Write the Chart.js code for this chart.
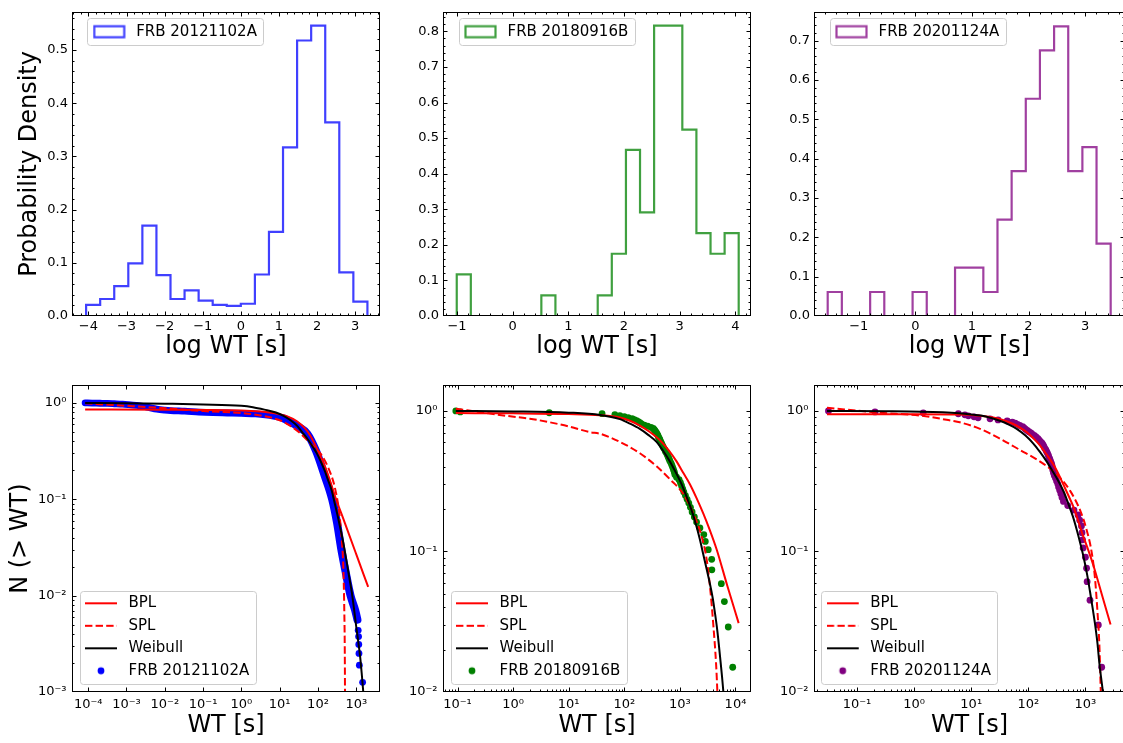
<!DOCTYPE html>
<html>
<head>
<meta charset="utf-8">
<script src="https://cdn.jsdelivr.net/npm/chart.js@4.4.1/dist/chart.umd.min.js"></script>
<style>
  html, body { margin: 0; padding: 0; background: #fff; }
  body { width: 1123px; height: 743px; overflow: hidden; position: relative; }
  canvas { position: absolute; }
</style>
</head>
<body>
<script>
// ---------------- data ----------------
const frbNames = ['FRB 20121102A', 'FRB 20180916B', 'FRB 20201124A'];
const modelNames = ['BPL', 'SPL', 'Weibull'];

// top row: histograms of log WT (bin edges + probability density)
const histEdges1 = [-4.06, -3.691, -3.322, -2.953, -2.584, -2.215, -1.846, -1.477, -1.108, -0.739, -0.37, -0.001, 0.368, 0.737, 1.106, 1.475, 1.844, 2.213, 2.582, 2.951, 3.32];
const histDens1 = [0.021, 0.032, 0.056, 0.099, 0.170, 0.077, 0.032, 0.048, 0.029, 0.021, 0.019, 0.023, 0.078, 0.158, 0.317, 0.518, 0.546, 0.364, 0.082, 0.027];
const histEdges2 = [-1.005, -0.752, -0.498, -0.245, 0.008, 0.262, 0.515, 0.768, 1.021, 1.275, 1.528, 1.781, 2.035, 2.288, 2.541, 2.795, 3.048, 3.301, 3.555, 3.808, 4.061];
const histDens2 = [0.117, 0, 0, 0, 0, 0, 0.058, 0, 0, 0, 0.058, 0.175, 0.467, 0.291, 0.816, 0.816, 0.524, 0.233, 0.175, 0.233];
const histEdges3 = [-1.548, -1.298, -1.048, -0.798, -0.548, -0.298, -0.048, 0.202, 0.452, 0.702, 0.952, 1.202, 1.452, 1.702, 1.952, 2.202, 2.452, 2.702, 2.952, 3.202, 3.452];
const histDens3 = [0.061, 0, 0, 0.061, 0, 0, 0.061, 0, 0, 0.123, 0.123, 0.061, 0.245, 0.368, 0.552, 0.675, 0.736, 0.368, 0.429, 0.184];

const histXTicks1 = [-4, -3, -2, -1, 0, 1, 2, 3];
const histXTicks2 = [-1, 0, 1, 2, 3, 4];
const histXTicks3 = [-1, 0, 1, 2, 3];
const histYTicks1 = [0, 0.1, 0.2, 0.3, 0.4, 0.5];
const histYTicks2 = [0, 0.1, 0.2, 0.3, 0.4, 0.5, 0.6, 0.7, 0.8];
const histYTicks3 = [0, 0.1, 0.2, 0.3, 0.4, 0.5, 0.6, 0.7];

// bottom row: N(>WT), stored as log10(WT [s]) and log10(N) for the fits
const bpl1LogWt = [-4.08, -2.0, 0.0, 0.5, 0.9, 1.2, 1.45, 1.65, 1.8, 1.92, 2.05, 2.18, 2.3, 2.42, 2.7, 3.0, 3.31];
const bpl1LogN = [-0.068, -0.07, -0.078, -0.09, -0.11, -0.14, -0.19, -0.26, -0.34, -0.43, -0.54, -0.66, -0.79, -0.94, -1.245, -1.572, -1.91];
const spl1LogWt = [-4.08, -3.0, -2.0, -1.0, 0.0, 0.5, 1.0, 1.27, 1.55, 1.8, 2.06, 2.27, 2.44, 2.557, 2.62, 2.66, 2.687, 2.7, 2.705, 2.708];
const spl1LogN = [-0.005, -0.03, -0.055, -0.085, -0.105, -0.13, -0.18, -0.235, -0.32, -0.42, -0.524, -0.675, -0.878, -1.148, -1.418, -1.69, -2.16, -2.6, -3.0, -3.3];
const weib1LogWt = [-4.08, -3.0, -2.0, -1.0, 0.0, 0.3, 0.6, 0.9, 1.1, 1.3, 1.45, 1.6, 1.75, 1.87, 1.97, 2.08, 2.18, 2.27, 2.36, 2.43, 2.5, 2.575, 2.645, 2.705, 2.765, 2.82, 2.88, 2.935, 2.99, 3.045, 3.1, 3.14, 3.18, 3.21];
const weib1LogN = [0, -0.004, -0.009, -0.016, -0.03, -0.045, -0.07, -0.1, -0.135, -0.185, -0.236, -0.31, -0.388, -0.46, -0.524, -0.615, -0.709, -0.81, -0.912, -1.03, -1.148, -1.285, -1.418, -1.55, -1.689, -1.82, -1.959, -2.12, -2.297, -2.46, -2.634, -2.8, -2.99, -3.15];
// FRB 20121102A: dense band of bursts (flat part, steep part) and the last isolated points
const bandFlat1LogWt = [-4.08, -3.9, -3.69, -3.5, -3.32, -3.1, -2.95, -2.75, -2.58, -2.4, -2.21, -2.0, -1.85, -1.48, -1.11, -0.74, -0.37, 0.0, 0.37, 0.74, 1.1];
const bandFlat1LogN = [0, -0.002, -0.004, -0.006, -0.009, -0.013, -0.018, -0.026, -0.035, -0.05, -0.065, -0.075, -0.08, -0.086, -0.095, -0.101, -0.105, -0.109, -0.114, -0.13, -0.16];
const bandSteep1LogWt = [1.1, 1.3, 1.5, 1.72, 1.95, 2.17, 2.37, 2.5, 2.6, 2.72, 2.85, 2.97, 3.03];
const bandSteep1LogN = [-0.16, -0.2, -0.25, -0.32, -0.5, -0.75, -1.0, -1.25, -1.5, -1.75, -2.0, -2.15, -2.25];
const tail1LogWt = [3.05, 3.06, 3.065, 3.07, 3.08, 3.165];
const tail1LogN = [-2.36, -2.425, -2.506, -2.6, -2.722, -2.9];

const bpl2LogWt = [-1.03, 0.0, 1.0, 1.56, 1.92, 2.1, 2.28, 2.46, 2.64, 2.8, 2.94, 3.06, 3.18, 3.3, 3.42, 3.54, 3.66, 3.85, 4.057];
const bpl2LogN = [-0.015, -0.017, -0.022, -0.03, -0.047, -0.07, -0.104, -0.15, -0.208, -0.28, -0.359, -0.44, -0.521, -0.62, -0.729, -0.85, -0.984, -1.24, -1.51];
const spl2LogWt = [-1.03, -0.6, -0.115, 0.3, 0.664, 1.0, 1.383, 1.563, 1.92, 2.28, 2.58, 2.82, 3.06, 3.24, 3.39, 3.48, 3.55, 3.6, 3.65, 3.673, 3.69];
const spl2LogN = [0.016, -0.008, -0.035, -0.055, -0.081, -0.11, -0.151, -0.162, -0.22, -0.301, -0.394, -0.486, -0.59, -0.729, -0.891, -1.053, -1.285, -1.517, -1.794, -1.99, -2.2];
const weib2LogWt = [-1.03, 0.0, 1.0, 1.563, 1.92, 2.1, 2.28, 2.43, 2.58, 2.7, 2.82, 2.93, 3.03, 3.12, 3.21, 3.29, 3.36, 3.42, 3.48, 3.54, 3.59, 3.635, 3.673, 3.705, 3.734, 3.76, 3.78, 3.8];
const weib2LogN = [0, -0.003, -0.012, -0.028, -0.058, -0.09, -0.128, -0.17, -0.22, -0.285, -0.359, -0.44, -0.521, -0.61, -0.706, -0.81, -0.915, -1.02, -1.123, -1.23, -1.331, -1.45, -1.5625, -1.68, -1.794, -1.9, -1.99, -2.1];
const frb2LogWt = [-1.03, -0.95, 0.65, 1.6, 1.83, 1.92, 2.0, 2.07, 2.14, 2.18, 2.22, 2.25, 2.28, 2.31, 2.36, 2.42, 2.48, 2.52, 2.54, 2.555, 2.57, 2.585, 2.6, 2.61, 2.62, 2.635, 2.645, 2.655, 2.67, 2.68, 2.695, 2.71, 2.73, 2.74, 2.76, 2.775, 2.79, 2.805, 2.82, 2.84, 2.855, 2.87, 2.885, 2.9, 2.91, 2.94, 2.985, 3.01, 3.03, 3.05, 3.07, 3.1, 3.13, 3.16, 3.19, 3.22, 3.26, 3.3, 3.36, 3.43, 3.457, 3.51, 3.572, 3.575, 3.745, 3.8, 3.87, 3.95];
const frb2N = [1.000, 0.985, 0.971, 0.956, 0.941, 0.926, 0.912, 0.897, 0.882, 0.868, 0.853, 0.838, 0.824, 0.809, 0.794, 0.779, 0.765, 0.750, 0.735, 0.721, 0.706, 0.691, 0.676, 0.662, 0.647, 0.632, 0.618, 0.603, 0.588, 0.574, 0.559, 0.544, 0.529, 0.515, 0.500, 0.485, 0.471, 0.456, 0.441, 0.426, 0.412, 0.397, 0.382, 0.368, 0.353, 0.338, 0.324, 0.309, 0.294, 0.279, 0.265, 0.250, 0.235, 0.221, 0.206, 0.191, 0.176, 0.162, 0.147, 0.132, 0.118, 0.103, 0.088, 0.074, 0.059, 0.044, 0.029, 0.015];

const bpl3LogWt = [-1.525, 0.0, 0.8, 1.1, 1.387, 1.58, 1.737, 1.86, 1.97, 2.09, 2.2, 2.32, 2.44, 2.53, 2.61, 2.7, 2.79, 2.88, 2.96, 3.05, 3.14, 3.29, 3.44];
const bpl3LogN = [-0.023, -0.023, -0.025, -0.032, -0.047, -0.068, -0.093, -0.12, -0.15, -0.195, -0.243, -0.31, -0.382, -0.45, -0.521, -0.6, -0.683, -0.79, -0.891, -0.99, -1.1, -1.31, -1.52];
const spl3LogWt = [-1.525, -0.62, 0.14, 0.664, 0.8, 1.154, 1.504, 1.855, 2.2, 2.497, 2.73, 2.906, 3.02, 3.11, 3.168, 3.21, 3.243, 3.268, 3.28];
const spl3LogN = [0.023, -0.012, -0.035, -0.07, -0.081, -0.127, -0.197, -0.278, -0.359, -0.451, -0.567, -0.706, -0.845, -1.007, -1.192, -1.424, -1.655, -1.99, -2.2];
const weib3LogWt = [-1.525, -0.5, 0.14, 0.5, 0.79, 1.0, 1.17, 1.35, 1.5, 1.65, 1.797, 1.95, 2.088, 2.2, 2.32, 2.42, 2.525, 2.62, 2.7, 2.78, 2.848, 2.915, 2.975, 3.03, 3.08, 3.125, 3.168, 3.21, 3.244, 3.275, 3.303, 3.33];
const weib3LogN = [0, -0.002, -0.005, -0.01, -0.017, -0.025, -0.033, -0.05, -0.07, -0.095, -0.127, -0.175, -0.232, -0.29, -0.359, -0.425, -0.498, -0.575, -0.66, -0.75, -0.845, -0.95, -1.053, -1.165, -1.285, -1.4, -1.516, -1.65, -1.794, -1.9, -1.99, -2.1];
const frb3LogWt = [-1.5, -0.685, 0.16, 0.774, 0.89, 0.95, 1.05, 1.12, 1.33, 1.47, 1.63, 1.72, 1.77, 1.81, 1.85, 1.9, 1.925, 1.95, 1.98, 2.01, 2.045, 2.075, 2.11, 2.14, 2.17, 2.19, 2.215, 2.24, 2.255, 2.27, 2.285, 2.305, 2.32, 2.335, 2.35, 2.36, 2.375, 2.39, 2.405, 2.414, 2.424, 2.43, 2.44, 2.455, 2.475, 2.495, 2.515, 2.53, 2.55, 2.57, 2.59, 2.615, 2.69, 2.8, 2.87, 2.9, 2.93, 2.94, 2.95, 2.96, 3.0, 3.02, 3.03, 3.08, 3.226, 3.285];
const frb3N = [1.000, 0.985, 0.970, 0.955, 0.939, 0.924, 0.909, 0.894, 0.879, 0.864, 0.848, 0.833, 0.818, 0.803, 0.788, 0.773, 0.758, 0.742, 0.727, 0.712, 0.697, 0.682, 0.667, 0.652, 0.636, 0.621, 0.606, 0.591, 0.576, 0.561, 0.545, 0.530, 0.515, 0.500, 0.485, 0.470, 0.455, 0.439, 0.424, 0.409, 0.394, 0.379, 0.364, 0.348, 0.333, 0.318, 0.303, 0.288, 0.273, 0.258, 0.242, 0.227, 0.212, 0.197, 0.182, 0.167, 0.152, 0.136, 0.121, 0.106, 0.091, 0.076, 0.061, 0.045, 0.030, 0.015];

// decade exponents for the log axes
const logXTicks1 = [-4, -3, -2, -1, 0, 1, 2, 3];
const logXTicks2 = [-1, 0, 1, 2, 3, 4];
const logXTicks3 = [-1, 0, 1, 2, 3];
const logYTicks1 = [-3, -2, -1, 0];
const logYTicks23 = [-2, -1, 0];

// ---------------- styling / layout ----------------
const FONT = "'DejaVu Sans', sans-serif";
Chart.defaults.font.family = FONT;
Chart.defaults.color = '#000';

const histColors = ['rgba(0,0,255,0.75)', 'rgba(0,128,0,0.75)', 'rgba(128,0,128,0.75)'];
const dotColors = ['#0000ff', '#008000', '#800080'];
const RED = '#ff0000';
const DASH = [7.4, 3.2];

const COLS = [
  {left: 0, width: 390, areaL: 72, areaR: 380},
  {left: 390, width: 370, areaL: 443, areaR: 751},
  {left: 760, width: 370, areaL: 814, areaR: 1125}
];
const ROWS = [
  {top: 0, height: 372, areaT: 3, areaB: 316, xPad: 3, yPad: 4, xTitlePad: 11, yTitlePad: 15.3},
  {top: 372, height: 371, areaT: 378, areaB: 692, xPad: 4.5, yPad: 5.5, xTitlePad: 2.6, yTitlePad: 5.9}
];

const SUP = {'-': '\u207B', '0': '\u2070', '1': '\u00B9', '2': '\u00B2', '3': '\u00B3', '4': '\u2074'};
const powLabel = v => '10' + String(Math.round(Math.log10(v))).split('').map(c => SUP[c]).join('');
const intLabel = v => (v < 0 ? '\u2212' : '') + Math.abs(v);
const decLabel = v => v.toFixed(1);

function linMinor(min, max, step, majors) {
  const out = [];
  for (let k = Math.ceil(min / step - 1e-9); k * step <= max + 1e-9; k++) {
    const v = k * step;
    if (!majors.some(m => Math.abs(m - v) < step / 10)) out.push(v);
  }
  return out;
}
function logMinor(min, max) {
  const out = [];
  for (let e = Math.floor(Math.log10(min)); e <= Math.ceil(Math.log10(max)); e++) {
    for (let d = 2; d <= 9; d++) {
      const v = d * Math.pow(10, e);
      if (v >= min && v <= max) out.push(v);
    }
  }
  return out;
}

// legend handles drawn on small canvases
function handle(draw) {
  const c = document.createElement('canvas');
  c.width = 36; c.height = 16;
  draw(c.getContext('2d'));
  return c;
}
const rectHandle = color => handle(g => { g.strokeStyle = color; g.lineWidth = 2.2; g.strokeRect(1.5, 2.5, 30, 11); });
const lineHandle = (color, dash) => handle(g => {
  g.strokeStyle = color; g.lineWidth = 2; g.setLineDash(dash || []);
  g.beginPath(); g.moveTo(0, 8); g.lineTo(32, 8); g.stroke();
});
const dotHandle = color => handle(g => { g.fillStyle = color; g.beginPath(); g.arc(16, 8, 3.4, 0, Math.PI * 2); g.fill(); });

function roundRectPath(ctx, x, y, w, h, r) {
  ctx.beginPath();
  ctx.moveTo(x + r, y); ctx.lineTo(x + w - r, y); ctx.arcTo(x + w, y, x + w, y + r, r);
  ctx.lineTo(x + w, y + h - r); ctx.arcTo(x + w, y + h, x + w - r, y + h, r);
  ctx.lineTo(x + r, y + h); ctx.arcTo(x, y + h, x, y + h - r, r);
  ctx.lineTo(x, y + r); ctx.arcTo(x, y, x + r, y, r);
  ctx.closePath();
}

// legend placement, legend frame, inward ticks and spines
function decor(spec) {
  return {
    id: 'decor',
    afterLayout(chart) {
      const lg = chart.legend;
      const pad = lg.options.labels.padding;
      lg.left = spec.legendX - pad;
      lg.top = spec.legendY - 7.5 - pad;
      lg.width = 320; lg.height = 140;
      lg.right = lg.left + lg.width;
      lg.bottom = lg.top + lg.height;
    },
    beforeDraw(chart) {
      const ctx = chart.ctx;
      const items = chart.legend.legendItems || [];
      if (!items.length) return;
      ctx.save();
      ctx.font = '15px ' + FONT;
      const tw = Math.max(...items.map(it => ctx.measureText(it.text).width));
      const x0 = spec.legendX - 5.5;
      const y0 = spec.legendY - (items.length > 1 ? 12.6 : 13.4);
      const x1 = spec.legendX + 43.5 + tw + 6;
      const y1 = spec.legendY + (items.length - 1) * 22.5 + 13.3;
      roundRectPath(ctx, Math.round(x0) + 0.5, Math.round(y0) + 0.5, Math.round(x1 - x0), Math.round(y1 - y0), 3);
      ctx.fillStyle = 'rgba(255,255,255,0.8)';
      ctx.fill();
      ctx.strokeStyle = '#cccccc';
      ctx.lineWidth = 1;
      ctx.stroke();
      ctx.restore();
    },
    afterDraw(chart) {
      const {ctx, chartArea: a} = chart;
      const sx = chart.scales.x, sy = chart.scales.y;
      const L = Math.round(a.left) + 0.5, R = Math.round(a.right) - 0.5;
      const T = Math.round(a.top) + 0.5, B = Math.round(a.bottom) - 0.5;
      ctx.save();
      ctx.strokeStyle = '#000';
      ctx.lineWidth = 1;
      ctx.beginPath();
      const xTick = (v, len) => {
        const p = Math.round(sx.getPixelForValue(v)) + 0.5;
        if (p < L || p > R) return;
        ctx.moveTo(p, B); ctx.lineTo(p, B - len);
        ctx.moveTo(p, T); ctx.lineTo(p, T + len);
      };
      const yTick = (v, len) => {
        const p = Math.round(sy.getPixelForValue(v)) + 0.5;
        if (p < T || p > B) return;
        ctx.moveTo(L, p); ctx.lineTo(L + len, p);
        ctx.moveTo(R, p); ctx.lineTo(R - len, p);
      };
      spec.xMajor.forEach(v => xTick(v, 4));
      spec.xMinor.forEach(v => xTick(v, 2));
      spec.yMajor.forEach(v => yTick(v, 4));
      spec.yMinor.forEach(v => yTick(v, 2));
      ctx.stroke();
      ctx.strokeRect(L, T, R - L, B - T);
      ctx.restore();
    }
  };
}

function axisCfg(o) {
  return {
    type: o.type, min: o.min, max: o.max, bounds: 'data', position: o.pos,
    grid: { display: false, drawTicks: false },
    border: { display: false },
    ticks: { autoSkip: false, maxRotation: 0, padding: o.pad, font: { size: 13 }, color: '#000', callback: o.fmt },
    title: o.title
      ? { display: true, text: o.title, color: '#000', font: { size: 24 }, padding: o.pos === 'left' ? { top: o.titlePad, bottom: 0 } : { top: 0, bottom: o.titlePad } }
      : { display: false },
    afterBuildTicks: s => { s.ticks = o.ticks.map(v => ({ value: v })); },
    afterFit: s => { if (o.pos === 'left') s.width = o.size; else s.height = o.size; }
  };
}

function makeCanvas(col, row) {
  const c = document.createElement('canvas');
  c.width = col.width; c.height = row.height;
  c.style.left = col.left + 'px'; c.style.top = row.top + 'px';
  c.style.width = col.width + 'px'; c.style.height = row.height + 'px';
  document.body.appendChild(c);
  return c;
}

function buildPanel(ci, ri, p) {
  const col = COLS[ci], row = ROWS[ri];
  const spec = {
    legendX: p.legendX - col.left, legendY: p.legendY - row.top,
    xMajor: p.xTicks, xMinor: p.xMinor, yMajor: p.yTicks, yMinor: p.yMinor
  };
  const items = p.legend.map((it, i) => ({
    text: it.text, pointStyle: it.handle, fillStyle: 'rgba(0,0,0,0)', strokeStyle: 'rgba(0,0,0,0)',
    lineWidth: 0, hidden: false, datasetIndex: i, fontColor: '#000'
  }));
  return new Chart(makeCanvas(col, row), {
    type: 'scatter',
    data: { datasets: p.datasets },
    options: {
      responsive: false, animation: false, devicePixelRatio: 1, events: [],
      layout: { padding: { left: 0, top: row.areaT - row.top, right: col.left + col.width - col.areaR, bottom: 0 } },
      scales: {
        x: axisCfg({ type: p.xType, min: p.xMin, max: p.xMax, pos: 'bottom', ticks: p.xTicks, fmt: p.xFmt,
          pad: row.xPad, title: p.xTitle, titlePad: row.xTitlePad, size: row.top + row.height - row.areaB }),
        y: axisCfg({ type: p.yType, min: p.yMin, max: p.yMax, pos: 'left', ticks: p.yTicks, fmt: p.yFmt,
          pad: row.yPad, title: p.yTitle, titlePad: row.yTitlePad, size: col.areaL - col.left })
      },
      plugins: {
        tooltip: { enabled: false },
        legend: {
          position: 'chartArea', align: 'start',
          labels: { usePointStyle: true, pointStyleWidth: 36, padding: 7.5, font: { size: 15 }, color: '#000',
            generateLabels: () => items }
        }
      }
    },
    plugins: [decor(spec)]
  });
}

// ---------------- datasets ----------------
function histOutline(edges, dens) {
  const pts = [{ x: edges[0], y: 0 }];
  dens.forEach((d, i) => { pts.push({ x: edges[i], y: d }, { x: edges[i + 1], y: d }); });
  pts.push({ x: edges[edges.length - 1], y: 0 });
  return pts;
}
const logPts = (lx, ly) => lx.map((v, i) => ({ x: Math.pow(10, v), y: Math.pow(10, ly[i]) }));
const logLinPts = (lx, n) => lx.map((v, i) => ({ x: Math.pow(10, v), y: n[i] }));

function histDataset(i, edges, dens) {
  return { label: frbNames[i], data: histOutline(edges, dens), showLine: true, pointRadius: 0,
    borderColor: histColors[i], backgroundColor: 'rgba(0,0,0,0)', borderWidth: 2.2, tension: 0 };
}
function curve(label, lx, ly, color, dash, order) {
  return { label, data: logPts(lx, ly), showLine: true, pointRadius: 0, borderColor: color, borderWidth: 2,
    borderDash: dash, cubicInterpolationMode: 'monotone', order };
}
function dots(i, data, order) {
  return { label: frbNames[i], data, showLine: false, pointRadius: 3.4, pointBorderWidth: 0,
    pointBackgroundColor: dotColors[i], backgroundColor: dotColors[i], order };
}
function band(i, data, width, order) {
  return { label: frbNames[i], data, showLine: true, pointRadius: 0, borderColor: dotColors[i], borderWidth: width,
    borderCapStyle: 'round', borderJoinStyle: 'round', cubicInterpolationMode: 'monotone', order };
}
function bottomLegend(i) {
  return [
    { text: modelNames[0], handle: lineHandle(RED) },
    { text: modelNames[1], handle: lineHandle(RED, DASH) },
    { text: modelNames[2], handle: lineHandle('#000') },
    { text: frbNames[i], handle: dotHandle(dotColors[i]) }
  ];
}

// ---------------- panels ----------------
const histRanges = [[-4.43, 3.65, 0.572], [-1.252, 4.282, 0.855], [-1.79, 3.705, 0.773]];
const histData = [[histEdges1, histDens1], [histEdges2, histDens2], [histEdges3, histDens3]];
const histXTicks = [histXTicks1, histXTicks2, histXTicks3];
const histYTicks = [histYTicks1, histYTicks2, histYTicks3];
const topLegendAt = [[92.7, 31.7], [464, 31.7], [835, 31.7]];

for (let i = 0; i < 3; i++) {
  const [xMin, xMax, yMax] = histRanges[i];
  buildPanel(i, 0, {
    datasets: [histDataset(i, histData[i][0], histData[i][1])],
    xType: 'linear', xMin, xMax, xTicks: histXTicks[i], xFmt: intLabel,
    xMinor: linMinor(xMin, xMax, 0.2, histXTicks[i]),
    yType: 'linear', yMin: 0, yMax, yTicks: histYTicks[i], yFmt: decLabel,
    yMinor: linMinor(0, yMax, 0.02, histYTicks[i]),
    xTitle: 'log WT [s]', yTitle: i === 0 ? 'Probability Density' : null,
    legendX: topLegendAt[i][0], legendY: topLegendAt[i][1],
    legend: [{ text: frbNames[i], handle: rectHandle(histColors[i]) }]
  });
}

const p10 = e => Math.pow(10, e);
const bottomSets = [
  [
    curve('Weibull', weib1LogWt, weib1LogN, '#000', [], 0),
    curve('SPL', spl1LogWt, spl1LogN, RED, DASH, 1),
    curve('BPL', bpl1LogWt, bpl1LogN, RED, [], 2),
    dots(0, logPts(tail1LogWt, tail1LogN), 3),
    band(0, logPts(bandSteep1LogWt, bandSteep1LogN), 8, 4),
    band(0, logPts(bandFlat1LogWt, bandFlat1LogN), 6.8, 5)
  ],
  [
    curve('Weibull', weib2LogWt, weib2LogN, '#000', [], 0),
    curve('SPL', spl2LogWt, spl2LogN, RED, DASH, 1),
    curve('BPL', bpl2LogWt, bpl2LogN, RED, [], 2),
    dots(1, logLinPts(frb2LogWt, frb2N), 3)
  ],
  [
    curve('Weibull', weib3LogWt, weib3LogN, '#000', [], 0),
    curve('SPL', spl3LogWt, spl3LogN, RED, DASH, 1),
    curve('BPL', bpl3LogWt, bpl3LogN, RED, [], 2),
    dots(2, logLinPts(frb3LogWt, frb3N), 3)
  ]
];
const logRanges = [[-4.423, 3.619, -3, 0.1825], [-1.261, 4.279, -2, 0.1826], [-1.753, 3.693, -2, 0.1826]];
const logXTicks = [logXTicks1, logXTicks2, logXTicks3];
const logYTicks = [logYTicks1, logYTicks23, logYTicks23];
const bottomLegendAt = [[85, 603.3], [456, 603.3], [826.7, 603.3]];

for (let i = 0; i < 3; i++) {
  const [lx0, lx1, ly0, ly1] = logRanges[i];
  const xMin = p10(lx0), xMax = p10(lx1), yMin = p10(ly0), yMax = p10(ly1);
  buildPanel(i, 1, {
    datasets: bottomSets[i],
    xType: 'logarithmic', xMin, xMax, xTicks: logXTicks[i].map(p10), xFmt: powLabel,
    xMinor: i === 0 ? [] : logMinor(xMin, xMax),
    yType: 'logarithmic', yMin, yMax, yTicks: logYTicks[i].map(p10), yFmt: powLabel,
    yMinor: logMinor(yMin, yMax),
    xTitle: 'WT [s]', yTitle: i === 0 ? 'N (> WT)' : null,
    legendX: bottomLegendAt[i][0], legendY: bottomLegendAt[i][1],
    legend: bottomLegend(i)
  });
}
</script>
</body>
</html>
